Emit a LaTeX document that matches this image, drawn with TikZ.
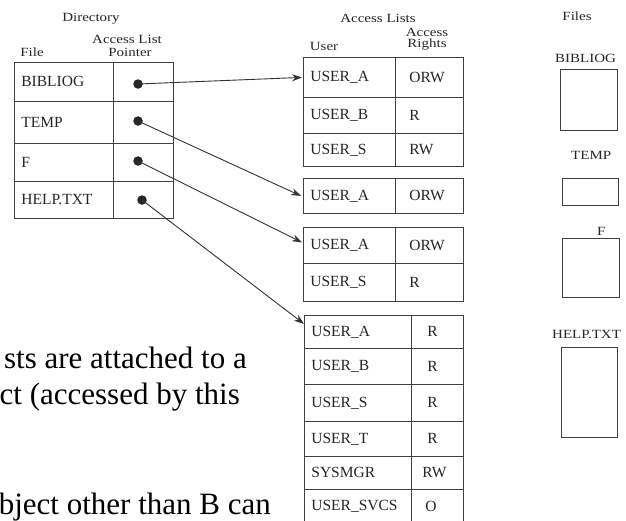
\documentclass[tikz,border=0pt]{standalone}
\usepackage{fontspec}
\setmainfont{Liberation Serif}
\newfontfamily\hdrfont[FakeStretch=1.2]{Liberation Serif}
\usetikzlibrary{arrows.meta}
\tikzset{
  hdr/.style={inner sep=0pt, font=\hdrfont\fontsize{12.5}{13}\selectfont, text=black!85},
  cell/.style={draw=black!75, line width=0.8pt, inner sep=0pt, anchor=north west,
    align=left, font=\fontsize{15.5}{16}\selectfont, text=black!85},
  dotnode/.style={circle, fill=black!85, inner sep=0pt, minimum size=9.5pt},
  ptr/.style={draw=black!80, line width=0.9pt, -{Stealth[length=10pt,width=7pt]}},
  filebox/.style={draw=black!75, line width=0.8pt},
  slide/.style={inner sep=0pt, anchor=base east, font=\fontsize{31}{36}\selectfont},
}
\newcommand{\cellat}[6]{% name, x, y, width, height, text
  \node[cell, minimum width=#4pt, minimum height=#5pt, text width=#4pt] (#1) at (#2,#3) {\hspace*{7pt}#6};}
\begin{document}
\begin{tikzpicture}[x=1pt,y=-1pt]
\useasboundingbox (0,0) rectangle (626,520);
\fill[white] (0,0) rectangle (626,520);

% ---- headers
\node[hdr] (hdir) at (91,19) {Directory};
\node[hdr] (hacl) at (127,39) {Access List};
\node[hdr] (hptr) at (130,52) {Pointer};
\node[hdr] (hfile) at (32,52) {File};
\node[hdr] (hal) at (378,18) {Access Lists};
\node[hdr] (hacc) at (427,32) {Access};
\node[hdr] (hrig) at (427,45) {Rights};
\node[hdr] (huser) at (324,46) {User};
\node[hdr] (hfiles) at (577,16) {Files};

% ---- directory
\cellat{d1f}{14}{62}{99}{39}{BIBLIOG}
\cellat{d1p}{113}{62}{60}{39}{}
\cellat{d2f}{14}{101}{99}{42}{TEMP}
\cellat{d2p}{113}{101}{60}{42}{}
\cellat{d3f}{14}{143}{99}{38}{F}
\cellat{d3p}{113}{143}{60}{38}{}
\cellat{d4f}{14}{181}{99}{37}{HELP.TXT}
\cellat{d4p}{113}{181}{60}{37}{}

\node[dotnode] (p1) at (138,84) {};
\node[dotnode] (p2) at (138,121) {};
\node[dotnode] (p3) at (138,161) {};
\node[dotnode] (p4) at (142,200) {};

% ---- access list 1
\cellat{a1u}{303}{57}{92}{40}{USER\_A}
\cellat{a1r}{395}{57}{68}{40}{\hspace*{7pt}ORW}
\cellat{a2u}{303}{97}{92}{36}{USER\_B}
\cellat{a2r}{395}{97}{68}{36}{\hspace*{7pt}R}
\cellat{a3u}{303}{133}{92}{33}{USER\_S}
\cellat{a3r}{395}{133}{68}{33}{\hspace*{7pt}RW}
% ---- access list 2
\cellat{b1u}{303}{178}{92}{35}{USER\_A}
\cellat{b1r}{395}{178}{68}{35}{\hspace*{7pt}ORW}
% ---- access list 3
\cellat{c1u}{303}{227}{92}{36}{USER\_A}
\cellat{c1r}{395}{227}{68}{36}{\hspace*{7pt}ORW}
\cellat{c2u}{303}{263}{92}{38}{USER\_S}
\cellat{c2r}{395}{263}{68}{38}{\hspace*{7pt}R}
% ---- access list 4
\cellat{e1u}{304}{315}{107}{33}{USER\_A}
\cellat{e1r}{411}{315}{52}{33}{\hspace*{9pt}R}
\cellat{e2u}{304}{348}{107}{36}{USER\_B}
\cellat{e2r}{411}{348}{52}{36}{\hspace*{9pt}R}
\cellat{e3u}{304}{384}{107}{37}{USER\_S}
\cellat{e3r}{411}{384}{52}{37}{\hspace*{9pt}R}
\cellat{e4u}{304}{421}{107}{35}{USER\_T}
\cellat{e4r}{411}{421}{52}{35}{\hspace*{9pt}R}
\cellat{e5u}{304}{456}{107}{33}{SYSMGR}
\cellat{e5r}{411}{456}{52}{33}{\hspace*{4pt}RW}
\cellat{e6u}{304}{489}{107}{34}{USER\_SVCS}
\cellat{e6r}{411}{489}{52}{34}{\hspace*{7pt}O}

% ---- pointers
\draw[ptr] (p1.center) -- ([xshift=-1pt]a1u.west);
\draw[ptr] (p2.center) -- ([xshift=-2pt]b1u.west);
\draw[ptr] (p3.center) -- ([xshift=-1pt,yshift=3pt]c1u.west);
\draw[ptr] (p4.center) -- ([yshift=8pt]e1u.west);

% ---- files
\node[hdr, anchor=west] (fl1) at (555,58) {BIBLIOG};
\node[filebox, inner sep=0pt, minimum width=57pt, minimum height=61pt, anchor=north west] (f1) at (560,69) {};
\node[hdr, anchor=west] (fl2) at (571,155) {TEMP};
\node[filebox, inner sep=0pt, minimum width=56pt, minimum height=27pt, anchor=north west] (f2) at (562,178) {};
\node[hdr, anchor=west] (fl3) at (597,231) {F};
\node[filebox, inner sep=0pt, minimum width=57pt, minimum height=59pt, anchor=north west] (f3) at (562,238) {};
\node[hdr, anchor=west] (fl4) at (552,334) {HELP.TXT};
\node[filebox, inner sep=0pt, minimum width=56pt, minimum height=90pt, anchor=north west] (f4) at (561,347) {};

% ---- slide text fragments
\node[slide] (s1) at (247,368) {sts are attached to a};
\node[slide] (s2) at (240,404) {ct (accessed by this};
\node[slide] (s3) at (271,514) {bject other than B can};
\end{tikzpicture}
\end{document}
